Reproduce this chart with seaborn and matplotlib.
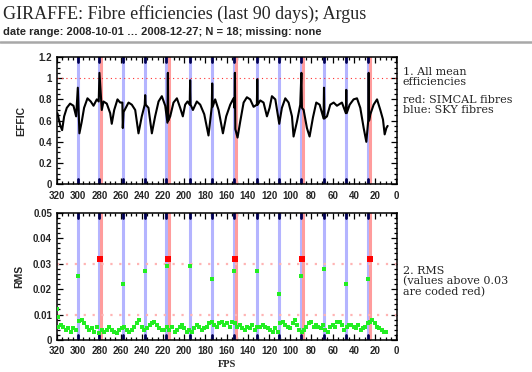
import numpy as np
import matplotlib
matplotlib.use('Agg')
import matplotlib.pyplot as plt
from matplotlib.ticker import MultipleLocator, FuncFormatter
import seaborn as sns

# fibre positions (FPS) of special fibres
sky_fps = [300.3, 280.2, 257.9, 236.8, 216.7, 194.4, 173.6, 153.2, 131.1, 110.4, 90.3, 68.2, 47.2, 27.0]
simcal_fps = [278.5, 214.8, 151.6, 88.4, 25.2]

# mean efficiency curve
eff_fps = [319.5, 317.0, 315.1, 313.2, 310.7, 307.6, 304.4, 301.9, 300.3, 298.8,
           296.6, 294.4, 291.2, 288.1, 285.5, 282.4, 280.6, 279.9, 277.7, 276.1,
           273.0, 269.8, 268.3, 266.0, 262.9, 260.4, 258.3, 257.9, 257.2, 252.5,
           249.4, 246.2, 243.1, 240.0, 237.2, 236.8, 236.3, 233.7, 230.5, 227.4,
           224.2, 221.1, 217.9, 215.8, 215.4, 215.0, 213.2, 210.1, 206.9, 203.8,
           201.3, 199.1, 196.9, 194.8, 194.4, 194.0, 191.8, 188.1, 184.9, 181.1,
           177.1, 174.0, 173.6, 173.2, 170.8, 167.6, 163.5, 160.4, 156.6, 153.5,
           152.6, 152.2, 151.8, 149.7, 147.2, 144.0, 140.9, 137.8, 134.6, 131.5,
           131.1, 130.7, 128.3, 125.2, 122.0, 119.5, 117.3, 114.1, 110.4, 107.9,
           104.7, 101.6, 98.4, 96.9, 93.7, 90.6, 89.5, 89.0, 87.4, 84.3,
           81.8, 78.6, 75.5, 72.3, 68.6, 68.2, 67.8, 65.4, 62.3, 59.1,
           56.0, 51.3, 47.6, 47.2, 46.8, 44.0, 40.3, 37.1, 34.0, 30.8,
           28.3, 26.5, 26.1, 25.7, 24.5, 21.4, 18.2, 15.1, 12.6, 11.0,
           9.4, 8.2]
effic = [0.67, 0.56, 0.51, 0.64, 0.72, 0.76, 0.74, 0.64, 0.91, 0.48,
         0.59, 0.72, 0.81, 0.78, 0.74, 0.80, 0.78, 1.05, 0.70, 0.78,
         0.76, 0.67, 0.57, 0.70, 0.80, 0.77, 0.77, 0.53, 0.68, 0.77,
         0.75, 0.70, 0.48, 0.64, 0.75, 0.84, 0.75, 0.72, 0.48, 0.64,
         0.78, 0.83, 0.74, 0.58, 1.05, 0.60, 0.64, 0.77, 0.81, 0.72,
         0.64, 0.75, 0.78, 0.75, 0.98, 0.75, 0.70, 0.78, 0.75, 0.66,
         0.46, 0.73, 0.95, 0.73, 0.80, 0.70, 0.48, 0.64, 0.75, 0.81,
         0.72, 1.05, 0.52, 0.44, 0.59, 0.77, 0.82, 0.80, 0.73, 0.75,
         0.99, 0.75, 0.79, 0.77, 0.64, 0.72, 0.83, 0.80, 0.57, 0.72,
         0.81, 0.77, 0.64, 0.45, 0.59, 0.75, 1.05, 0.72, 0.70, 0.53,
         0.45, 0.63, 0.77, 0.75, 0.62, 0.91, 0.62, 0.64, 0.75, 0.77,
         0.74, 0.77, 0.67, 0.89, 0.67, 0.75, 0.80, 0.81, 0.72, 0.53,
         0.40, 0.60, 1.05, 0.60, 0.66, 0.75, 0.80, 0.70, 0.61, 0.47,
         0.53, 0.55]

# RMS of ordinary fibres
rms_fps = [318.6, 316.4, 313.9, 311.6, 309.1, 306.9, 304.4, 301.9, 299.4, 296.6,
           294.4, 291.8, 289.3, 287.1, 284.6, 282.4, 279.9, 277.7, 275.5, 273.0,
           270.8, 268.3, 266.0, 263.5, 261.3, 258.8, 256.6, 254.1, 251.6, 249.4,
           247.2, 244.7, 242.2, 240.0, 237.8, 235.2, 232.7, 230.5, 228.3, 225.8,
           223.3, 221.1, 218.6, 216.4, 213.9, 211.7, 209.1, 206.9, 204.4, 202.2,
           200.0, 197.5, 195.3, 192.8, 190.6, 188.1, 185.9, 183.3, 181.1, 178.6,
           176.4, 173.9, 171.7, 169.2, 167.0, 164.5, 162.3, 159.8, 157.2, 155.0,
           152.5, 150.3, 147.8, 145.6, 143.1, 140.9, 138.4, 136.2, 133.7, 131.5,
           128.3, 125.8, 123.6, 121.4, 118.9, 116.7, 114.1, 111.9, 109.4, 107.2,
           104.7, 102.5, 100.0, 97.8, 95.9, 93.7, 91.5, 89.3, 87.1, 84.9,
           82.7, 80.5, 78.0, 75.8, 73.6, 71.4, 69.2, 67.0, 64.5, 62.3,
           60.1, 57.9, 55.7, 53.5, 51.3, 49.1, 46.9, 44.7, 42.5, 40.3,
           38.1, 35.9, 33.6, 31.4, 29.2, 27.0, 24.8, 22.6, 20.4, 18.2,
           16.0, 13.8, 11.6, 9.4]
rms = [0.0052, 0.0059, 0.0052, 0.0039, 0.0046, 0.0033, 0.0046, 0.0039, 0.0076, 0.0079,
       0.0066, 0.0052, 0.0039, 0.0046, 0.0033, 0.0052, 0.0026, 0.0039, 0.0033, 0.0039,
       0.0052, 0.0039, 0.0033, 0.0026, 0.0039, 0.0046, 0.0052, 0.0039, 0.0033, 0.0039,
       0.0052, 0.0066, 0.0079, 0.0052, 0.0039, 0.0046, 0.0059, 0.0066, 0.0072, 0.0059,
       0.0046, 0.0039, 0.0039, 0.0052, 0.0039, 0.0052, 0.0033, 0.0039, 0.0052, 0.0059,
       0.0046, 0.0033, 0.0039, 0.0033, 0.0046, 0.0059, 0.0052, 0.0039, 0.0046, 0.0052,
       0.0066, 0.0072, 0.0059, 0.0052, 0.0066, 0.0072, 0.0059, 0.0066, 0.0052, 0.0072,
       0.0066, 0.0052, 0.0059, 0.0046, 0.0039, 0.0052, 0.0046, 0.0059, 0.0039, 0.0052,
       0.0052, 0.0059, 0.0052, 0.0046, 0.0039, 0.0033, 0.0046, 0.0033, 0.0066, 0.0072,
       0.0059, 0.0052, 0.0046, 0.0066, 0.0079, 0.0059, 0.0039, 0.0033, 0.0039, 0.0052,
       0.0066, 0.0072, 0.0052, 0.0059, 0.0052, 0.0046, 0.0059, 0.0039, 0.0033, 0.0052,
       0.0059, 0.0052, 0.0072, 0.0072, 0.0059, 0.0039, 0.0052, 0.0059, 0.0059, 0.0052,
       0.0046, 0.0059, 0.0039, 0.0046, 0.0052, 0.0066, 0.0072, 0.0079, 0.0066, 0.0052,
       0.0046, 0.0039, 0.0033, 0.0033]

# higher RMS values (edge + sky fibres)
rms_hi_fps = [320.0, 319.0, 300.3, 257.9, 236.8, 216.4, 194.4, 173.6, 152.9,
              131.1, 110.4, 89.6, 68.2, 47.2, 26.4]
rms_hi = [0.012, 0.009, 0.025, 0.022, 0.027, 0.029, 0.029, 0.024, 0.027,
          0.027, 0.018, 0.025, 0.028, 0.022, 0.024]

# values above 0.03 (SIMCAL fibres)
rms_red_fps = [279.0, 215.3, 152.2, 88.6, 24.9]
rms_red = [0.032, 0.032, 0.032, 0.032, 0.032]

xticks = list(range(320, -1, -20))

sns.set_style('ticks')
plt.rcParams['font.family'] = ['Liberation Sans', 'DejaVu Sans']

fig = plt.figure(figsize=(5.32, 3.72), dpi=100)
ax1 = fig.add_axes([0.107, 0.5046, 0.639, 0.3424])
ax2 = fig.add_axes([0.107, 0.086, 0.639, 0.342])

sky_col = '#b4b4ff'
sim_col = '#ff9c9c'
navy = '#000050'


def fibre_lines(ax):
    for f in sky_fps:
        ax.axvline(f, color=sky_col, lw=2.2, zorder=1)
        ax.axvline(f, ymin=0.96, ymax=1, color=navy, lw=2, zorder=2)
        ax.axvline(f, ymin=0, ymax=0.04, color=navy, lw=2, zorder=2)
    for f in simcal_fps:
        ax.axvline(f, color=sim_col, lw=2.2, zorder=1)


def style_axis(ax, ymax, ymaj, ymin):
    ax.set_xlim(320, -0.5)
    ax.set_ylim(0, ymax)
    ax.set_xticks(xticks)
    ax.xaxis.set_minor_locator(MultipleLocator(5))
    ax.yaxis.set_major_locator(MultipleLocator(ymaj))
    ax.yaxis.set_minor_locator(MultipleLocator(ymin))
    ax.yaxis.set_major_formatter(FuncFormatter(lambda v, p: '%g' % round(v, 4)))
    ax.tick_params(which='both', direction='in', top=True, right=True,
                   color='black', width=0.9)
    ax.tick_params(which='major', length=4.5, labelsize=7)
    ax.tick_params(axis='x', which='major', pad=4.5)
    ax.tick_params(axis='y', which='major', pad=3.5)
    ax.tick_params(which='minor', length=2.3)
    for lab in ax.get_xticklabels() + ax.get_yticklabels():
        lab.set_fontweight('bold')
    for s in ax.spines.values():
        s.set_linewidth(1.1)
        s.set_color('black')


# top panel: efficiencies
fibre_lines(ax1)
ax1.axhline(1.0, color='#ff3030', lw=0.8, ls=(0, (1, 3)), zorder=2)
sns.lineplot(x=eff_fps, y=effic, ax=ax1, color='black', lw=1.5,
             sort=False, estimator=None, zorder=3)
style_axis(ax1, 1.2, 0.2, 0.05)
ax1.set_ylabel('EFFIC', fontsize=7.5, fontweight='bold', labelpad=9)

# bottom panel: RMS
fibre_lines(ax2)
for yv in (0.01, 0.03):
    ax2.axhline(yv, color='#ffb4b4', lw=1.6, ls=(0, (1, 3)), zorder=2)
sns.scatterplot(x=rms_fps, y=rms, ax=ax2, color='#22ee22', marker='s', s=7,
                linewidth=0, zorder=3)
sns.scatterplot(x=rms_hi_fps, y=rms_hi, ax=ax2, color='#22ee22', marker='s', s=7,
                linewidth=0, zorder=3)
sns.scatterplot(x=rms_red_fps, y=rms_red, ax=ax2, color='#ff0000', marker='s', s=20,
                linewidth=0, zorder=4)
style_axis(ax2, 0.05, 0.01, 0.002)
ax2.set_ylabel('RMS', fontsize=7.5, fontweight='bold', labelpad=6)
ax2.set_xlabel('FPS', fontsize=7.5, fontweight='bold', labelpad=2.5,
               family='Liberation Serif')

# header
fig.text(0.006, 0.962, 'GIRAFFE: Fibre efficiencies (last 90 days); Argus',
         family='Liberation Serif', fontsize=13, va='center', ha='left')
fig.text(0.006, 0.915, 'date range: 2008-10-01 \u2026 2008-12-27; N = 18; missing: none',
         fontsize=8, fontweight='bold', va='center', ha='left')
fig.add_artist(plt.Line2D([0, 1], [0.887, 0.887], color='#a8a8a8', lw=1.8))

# annotations on the right
ann = dict(family='DejaVu Serif', fontsize=8, ha='left', va='center',
           linespacing=1.0)
fig.text(0.757, 0.793, '1. All mean\nefficiencies', **ann)
fig.text(0.757, 0.717, 'red: SIMCAL fibres\nblue: SKY fibres', **ann)
fig.text(0.757, 0.243, '2. RMS\n(values above 0.03\nare coded red)', **ann)

fig.savefig('out.png', dpi=100)
